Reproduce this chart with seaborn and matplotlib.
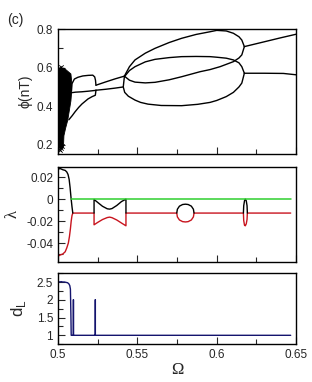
"""
Bifurcation diagram, Lyapunov exponents and Lyapunov dimension vs. drive frequency
"""

import matplotlib.pyplot as plt
import numpy as np
import pandas as pd
import seaborn as sns
from matplotlib.ticker import FuncFormatter, MultipleLocator

# ----------------------------
# Top panel: phi(nT) branches
# ----------------------------
# chaotic band (right edge of the dense cloud, by height)
chaos_y = [0.185, 0.21, 0.25, 0.29, 0.33, 0.38, 0.43, 0.48, 0.53, 0.57, 0.60]
chaos_xmax = [0.5028, 0.5032, 0.5034, 0.5045, 0.5058, 0.5068, 0.5078, 0.5083, 0.5083, 0.5078, 0.5035]
chaos_spk_x = [0.5004, 0.5012, 0.5020, 0.5008, 0.5016, 0.5003, 0.5026]
chaos_spk_y = [0.178, 0.172, 0.182, 0.595, 0.605, 0.600, 0.196]

# period-3 window
p3_up_x = [0.5084, 0.5088, 0.5103, 0.5125, 0.5156, 0.5190, 0.5219, 0.5231, 0.5236, 0.5239]
p3_up_y = [0.480, 0.517, 0.541, 0.550, 0.557, 0.560, 0.561, 0.552, 0.535, 0.509]
p3_mid_x = [0.5084, 0.5110, 0.5150, 0.5190, 0.5235, 0.5239]
p3_mid_y = [0.470, 0.473, 0.475, 0.478, 0.482, 0.483]
p3_low_x = [0.5068, 0.5090, 0.5107, 0.5130, 0.5151, 0.5189, 0.5215, 0.5235, 0.5239]
p3_low_y = [0.330, 0.352, 0.371, 0.394, 0.412, 0.438, 0.450, 0.457, 0.483]

# period-2 lines
p2_up_x = [0.5239, 0.5300, 0.5360, 0.5418]
p2_up_y = [0.509, 0.526, 0.542, 0.556]
p2_low_x = [0.5239, 0.5300, 0.5360, 0.5411]
p2_low_y = [0.483, 0.488, 0.494, 0.500]

# large loops
loop1_up_x = [0.5418, 0.5450, 0.5485, 0.5550, 0.5611, 0.5700, 0.5779, 0.5870, 0.5958, 0.6000, 0.6060, 0.6105, 0.6140, 0.6158, 0.6174]
loop1_up_y = [0.556, 0.605, 0.640, 0.675, 0.700, 0.730, 0.752, 0.772, 0.786, 0.793, 0.790, 0.778, 0.760, 0.743, 0.709]
loop1_low_x = [0.5418, 0.5450, 0.5485, 0.5550, 0.5611, 0.5700, 0.5779, 0.5895, 0.5958, 0.6021, 0.6105, 0.6140, 0.6158, 0.6174]
loop1_low_y = [0.556, 0.535, 0.525, 0.521, 0.524, 0.537, 0.553, 0.579, 0.590, 0.605, 0.631, 0.650, 0.666, 0.709]
loop2_up_x = [0.5418, 0.5450, 0.5485, 0.5550, 0.5611, 0.5700, 0.5779, 0.5870, 0.5958, 0.6000, 0.6060, 0.6105, 0.6140, 0.6158, 0.6174]
loop2_up_y = [0.553, 0.585, 0.605, 0.630, 0.643, 0.652, 0.657, 0.658, 0.657, 0.654, 0.649, 0.640, 0.625, 0.605, 0.571]
loop2_low_x = [0.5418, 0.5411, 0.5420, 0.5443, 0.5485, 0.5520, 0.5567, 0.5650, 0.5779, 0.5880, 0.5958, 0.6000, 0.6060, 0.6105, 0.6140, 0.6158, 0.6174]
loop2_low_y = [0.553, 0.500, 0.472, 0.452, 0.432, 0.420, 0.411, 0.404, 0.403, 0.410, 0.420, 0.430, 0.450, 0.472, 0.500, 0.520, 0.571]

# tails to the right edge
tail1_x = [0.6174, 0.6300, 0.6400, 0.6500]
tail1_y = [0.709, 0.734, 0.754, 0.773]
tail2_x = [0.6174, 0.6300, 0.6420, 0.6500]
tail2_y = [0.571, 0.571, 0.570, 0.563]

# ----------------------------
# Middle panel: Lyapunov exponents
# ----------------------------
# largest exponent (black), pieces where it leaves the red curve
lam1_chaos_x = [0.5000, 0.5015, 0.5030, 0.5045, 0.5055, 0.5063, 0.5070, 0.5076, 0.5082, 0.5088, 0.5093]
lam1_chaos_y = [0.0275, 0.0278, 0.0268, 0.0262, 0.0248, 0.0225, 0.0180, 0.0105, 0.0010, -0.0070, -0.0127]
lam1_bow_x = [0.5227, 0.5227, 0.5250, 0.5280, 0.5310, 0.5325, 0.5340, 0.5370, 0.5400, 0.5428, 0.5428]
lam1_bow_y = [-0.0127, -0.0003, -0.0030, -0.0065, -0.0088, -0.0091, -0.0086, -0.0058, -0.0022, 0.0, -0.0127]
lam1_ring_x = [0.5748, 0.5752, 0.5765, 0.5785, 0.5803, 0.5820, 0.5840, 0.5853, 0.5857]
lam1_ring_y = [-0.0127, -0.0092, -0.0064, -0.0049, -0.0046, -0.0049, -0.0064, -0.0092, -0.0127]
lam1_eye_x = [0.6168, 0.6170, 0.6175, 0.6180, 0.6186, 0.6191, 0.6193]
lam1_eye_y = [-0.0127, -0.0060, -0.0015, 0.0, -0.0015, -0.0060, -0.0127]
# zero exponent (green)
lam2_x = [0.5080, 0.6466]
lam2_y = [0.0, 0.0]
# third exponent (red)
lam3_x = [0.5000, 0.5012, 0.5030, 0.5045, 0.5055, 0.5065, 0.5072, 0.5078, 0.5083, 0.5088, 0.5093,
          0.5227, 0.5227, 0.5250, 0.5280, 0.5310, 0.5325, 0.5340, 0.5370, 0.5400, 0.5428, 0.5428,
          0.5748, 0.5752, 0.5765, 0.5785, 0.5803, 0.5820, 0.5840, 0.5853, 0.5857,
          0.6168, 0.6170, 0.6175, 0.6180, 0.6186, 0.6191, 0.6193, 0.6466]
lam3_y = [-0.0520, -0.0510, -0.0500, -0.0480, -0.0445, -0.0400, -0.0340, -0.0270, -0.0200, -0.0150, -0.0127,
          -0.0127, -0.0234, -0.0212, -0.0186, -0.0168, -0.0164, -0.0169, -0.0190, -0.0218, -0.0243, -0.0127,
          -0.0127, -0.0162, -0.0190, -0.0205, -0.0208, -0.0205, -0.0190, -0.0162, -0.0127,
          -0.0127, -0.0195, -0.0238, -0.0243, -0.0225, -0.0185, -0.0127, -0.0127]

# ----------------------------
# Bottom panel: Lyapunov dimension
# ----------------------------
dl_x = [0.5000, 0.5010, 0.5020, 0.5030, 0.5040, 0.5050, 0.5060, 0.5068, 0.5074, 0.5078, 0.5081, 0.5083,
        0.5097, 0.5097, 0.5097, 0.5235, 0.5235, 0.5235, 0.6466]
dl_y = [2.52, 2.50, 2.51, 2.50, 2.50, 2.49, 2.48, 2.45, 2.40, 2.30, 1.60, 1.00,
        1.00, 2.00, 1.00, 1.00, 2.00, 1.00, 1.00]

XLIM = (0.5, 0.65)


def branches_frame(pairs):
    rows = []
    for i, (xs, ys) in enumerate(pairs):
        rows.append(pd.DataFrame({"omega": xs, "val": ys, "branch": i}))
    return pd.concat(rows, ignore_index=True)


def style_axis(ax, ylim, ymajor, yminor, show_x=False):
    ax.set_xlim(*XLIM)
    ax.set_ylim(*ylim)
    ax.xaxis.set_major_locator(MultipleLocator(0.05))
    ax.xaxis.set_minor_locator(MultipleLocator(0.025))
    ax.yaxis.set_major_locator(MultipleLocator(ymajor))
    ax.yaxis.set_minor_locator(MultipleLocator(yminor))
    fmt = FuncFormatter(lambda v, p: "%g" % round(v, 4))
    ax.yaxis.set_major_formatter(fmt)
    ax.xaxis.set_major_formatter(fmt)
    ax.tick_params(which="both", direction="in", top=False, right=False, labelsize=8.5)
    ax.tick_params(which="major", length=5, width=0.8)
    ax.tick_params(which="minor", length=3.5, width=0.8)
    if not show_x:
        ax.tick_params(axis="x", labelbottom=False)
    for s in ax.spines.values():
        s.set_linewidth(1.0)
        s.set_color("black")
        s.set_visible(True)
    ax.set_xlabel("")
    ax.set_ylabel("")


sns.set_style("ticks")
plt.rcParams["font.family"] = ["Liberation Sans", "DejaVu Sans"]

fig = plt.figure(figsize=(3.12, 3.82), dpi=100)
ax1 = fig.add_axes([0.186, 0.597, 0.763, 0.327])
ax2 = fig.add_axes([0.186, 0.315, 0.763, 0.249])
ax3 = fig.add_axes([0.186, 0.099, 0.763, 0.186])

# ----------------------------
# Top panel
# ----------------------------
ax1.fill_betweenx(chaos_y, XLIM[0], chaos_xmax, color="black", lw=0.6)
sns.scatterplot(x=chaos_spk_x, y=chaos_spk_y, ax=ax1, marker="x", s=10,
                color="black", linewidth=0.6)

top_df = branches_frame([
    (p3_up_x, p3_up_y), (p3_mid_x, p3_mid_y), (p3_low_x, p3_low_y),
    (p2_up_x, p2_up_y), (p2_low_x, p2_low_y),
    (loop1_up_x, loop1_up_y), (loop1_low_x, loop1_low_y),
    (loop2_up_x, loop2_up_y), (loop2_low_x, loop2_low_y),
    (tail1_x, tail1_y), (tail2_x, tail2_y),
])
sns.lineplot(data=top_df, x="omega", y="val", units="branch", estimator=None,
             sort=False, color="black", lw=1.0, ax=ax1)
style_axis(ax1, (0.153, 0.8), 0.2, 0.1)

# ----------------------------
# Middle panel
# ----------------------------
red_df = pd.DataFrame({"omega": lam3_x, "val": lam3_y})
black_df = branches_frame([
    (lam1_chaos_x, lam1_chaos_y), (lam1_bow_x, lam1_bow_y),
    (lam1_ring_x, lam1_ring_y), (lam1_eye_x, lam1_eye_y),
])
sns.lineplot(data=red_df, x="omega", y="val", sort=False, estimator=None,
             color="#c8141e", lw=1.0, ax=ax2)
sns.lineplot(data=black_df, x="omega", y="val", units="branch", sort=False,
             estimator=None, color="black", lw=1.0, ax=ax2)
sns.lineplot(x=lam2_x, y=lam2_y, sort=False, estimator=None, color="#2fd02f", lw=1.1, ax=ax2)
style_axis(ax2, (-0.057, 0.0297), 0.02, 0.01)

# ----------------------------
# Bottom panel
# ----------------------------
sns.lineplot(x=dl_x, y=dl_y, sort=False, estimator=None, color="#14146e", lw=1.0, ax=ax3)
style_axis(ax3, (0.75, 2.75), 0.5, 0.25, show_x=True)

# ----------------------------
# Labels
# ----------------------------
ax1.set_ylabel("ϕ(nT)", fontsize=10, labelpad=3)
ax2.set_ylabel("λ", fontsize=12, family=["Liberation Serif", "DejaVu Serif"], labelpad=4)
ax3.set_ylabel(r"d$_\mathregular{L}$", fontsize=12, labelpad=6)
ax3.set_xlabel("Ω", fontsize=12, family=["Liberation Serif", "DejaVu Serif"], labelpad=1)
fig.text(0.022, 0.965, "(c)", fontsize=10, va="top", ha="left")

fig.savefig("out.png", dpi=100)
